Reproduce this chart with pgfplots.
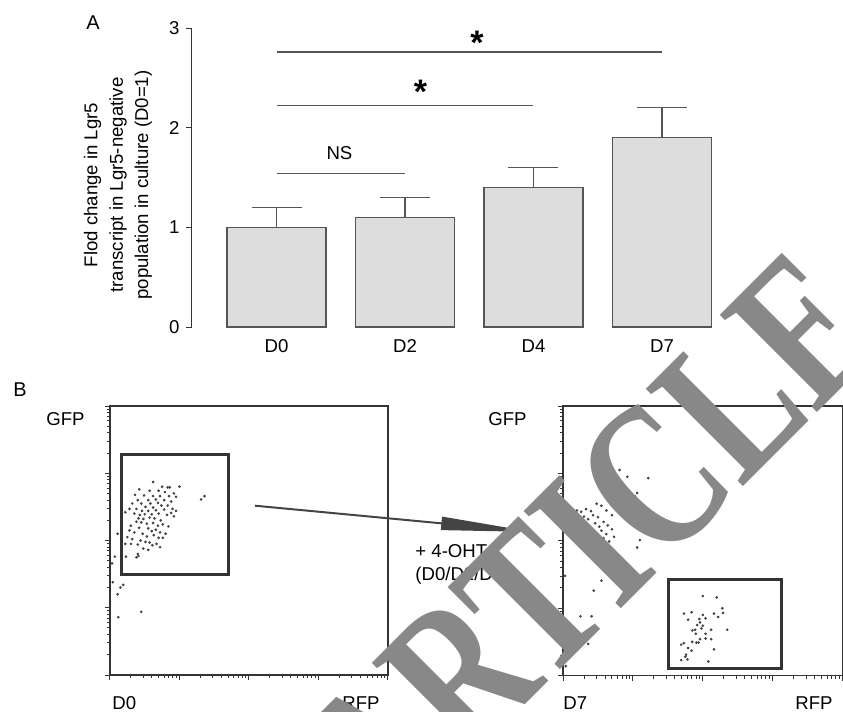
\documentclass[border=0pt]{standalone}
\usepackage{fontspec}
\setmainfont{Liberation Sans}
\newfontfamily\wmfont{Liberation Serif}
\usepackage{pgfplots}
\pgfplotsset{compat=1.18}
\usetikzlibrary{arrows.meta}

\definecolor{barfill}{HTML}{DDDDDD}
\definecolor{edge}{HTML}{555555}
\definecolor{dark}{HTML}{333333}
\definecolor{dotc}{HTML}{444444}
\definecolor{wm}{HTML}{888888}

% minor ticks of a 4-decade log scale, in decades
\def\logminor{0.301,0.477,0.602,0.699,0.778,0.845,0.903,0.954,
1.301,1.477,1.602,1.699,1.778,1.845,1.903,1.954,
2.301,2.477,2.602,2.699,2.778,2.845,2.903,2.954,
3.301,3.477,3.602,3.699,3.778,3.845,3.903,3.954}

\pgfplotsset{
  flow/.style={
    scale only axis, width=139pt, height=134.5pt,
    xmin=0, xmax=4, ymin=0, ymax=4,
    axis line style={draw=dark, line width=0.6pt},
    xtick={0,1,2,3,4}, ytick={0,1,2,3,4},
    minor xtick/.expand once=\logminor, minor ytick/.expand once=\logminor,
    xticklabel=\empty, yticklabel=\empty,
    tick align=outside, tick pos=left,
    major tick length=2.5pt, minor tick length=1.5pt,
    every tick/.style={draw=dark, line width=0.5pt},
    clip=false,
  },
  dots/.style={only marks, mark=*, mark size=0.45pt, color=dotc},
}

\begin{document}
\fontsize{9.3}{12.7}\selectfont
\begin{tikzpicture}

% ---------------- panel A ----------------
\begin{axis}[
  at={(96pt,-163.5pt)}, anchor=south west,
  scale only axis, width=267.1pt, height=149.5pt,
  xmin=-0.658, xmax=3.5, ymin=0, ymax=3,
  axis x line*=bottom, axis y line*=left,
  x axis line style={draw=none},
  y axis line style={draw=dark, line width=0.5pt},
  xtick={0,1,2,3}, xticklabels={D0,D2,D4,D7},
  xtick style={draw=none},
  ytick={0,1,2,3},
  tick align=outside, major tick length=3pt,
  ytick style={draw=dark, line width=0.5pt},
  /pgf/number format/assume math mode=true,
  clip=false,
]
\addplot[ybar, bar width=49.5pt, fill=barfill, draw=edge, line width=0.6pt,
  error bars/.cd, y dir=plus, y explicit,
  error bar style={draw=edge, line width=0.6pt},
  error mark options={rotate=90, mark size=12.5pt, draw=edge, line width=0.6pt}]
  coordinates {(0,1.0) +- (0,0.2) (1,1.1) +- (0,0.2) (2,1.4) +- (0,0.2) (3,1.9) +- (0,0.3)};
\draw[edge, line width=0.6pt] (axis cs:0,1.54) -- (axis cs:1,1.54);
\draw[edge, line width=0.6pt] (axis cs:0,2.22) -- (axis cs:2,2.22);
\draw[edge, line width=0.6pt] (axis cs:0,2.76) -- (axis cs:3,2.76);
\node[anchor=base, inner sep=0] at (axis cs:0.49,1.68) {NS};
\node[anchor=north, inner sep=0, font=\fontsize{17}{17}\selectfont\bfseries] at (axis cs:1.12,2.485) {*};
\node[anchor=north, inner sep=0, font=\fontsize{17}{17}\selectfont\bfseries] at (axis cs:1.56,2.97) {*};
\end{axis}

% ---------------- panel B, D0 ----------------
\begin{axis}[flow, at={(55pt,-337.5pt)}, anchor=south west]
\addplot[dots] coordinates {
(0.62,2.87) (0.75,2.80) (0.83,2.79) (0.86,2.79) (1.00,2.80) (0.42,2.76) (0.57,2.74) (0.70,2.74) (0.79,2.72) (0.92,2.70)
(0.36,2.68) (0.49,2.67) (0.62,2.66) (0.72,2.66) (0.85,2.66) (0.95,2.65) (0.40,2.60) (0.55,2.60) (0.66,2.61) (0.78,2.60)
(0.88,2.58) (0.32,2.55) (0.45,2.55) (0.58,2.55) (0.69,2.56) (0.74,2.52) (0.83,2.52) (0.51,2.50) (0.62,2.49) (0.28,2.47)
(0.38,2.47) (0.46,2.44) (0.55,2.44) (0.66,2.45) (0.78,2.46) (0.90,2.47) (0.95,2.44) (0.22,2.42) (0.35,2.40) (0.43,2.38)
(0.50,2.39) (0.60,2.39) (0.70,2.40) (0.82,2.38) (0.92,2.36) (0.88,2.41) (0.41,2.33) (0.48,2.32) (0.57,2.34) (0.64,2.33)
(0.73,2.30) (0.38,2.28) (0.45,2.27) (0.53,2.25) (0.62,2.26) (0.69,2.22) (0.76,2.24) (0.84,2.21) (0.30,2.22) (0.42,2.19)
(0.55,2.18) (0.60,2.14) (0.66,2.16) (0.72,2.12) (0.80,2.10) (0.28,2.15) (0.35,2.12) (0.47,2.10) (0.53,2.06) (0.63,2.08)
(0.70,2.04) (0.76,2.04) (0.25,2.05) (0.32,2.02) (0.44,2.00) (0.51,1.98) (0.57,1.97) (0.61,1.93) (0.67,1.95) (0.72,1.90)
(0.22,1.95) (0.30,1.95) (0.40,1.94) (0.48,1.88) (0.55,1.86) (0.40,1.80) (0.38,1.75) (0.41,1.77) (0.23,1.76)
(1.31,2.61) (1.36,2.66)
(0.11,2.10) (0.07,1.76) (0.03,1.66) (0.04,1.38) (0.19,1.34) (0.15,1.30) (0.11,1.20) (0.45,0.94) (0.12,0.86)
};
\draw[dark, line width=1.5pt] (axis cs:0.17,1.50) rectangle (axis cs:1.70,3.28);
\end{axis}

% ---------------- panel B, D7 ----------------
\begin{axis}[flow, at={(281.5pt,-337.8pt)}, anchor=south west, width=139.8pt, height=134.8pt]
\addplot[dots] coordinates {
(0.81,3.05) (1.22,2.93) (0.92,2.95) (0.79,2.93) (1.06,2.71) (1.03,2.66) (0.77,2.61) (0.99,2.48) (0.60,2.73) (0.68,2.55)
(0.85,2.50) (0.90,2.42) (1.10,2.01) (1.06,1.90) (0.75,1.59) (0.55,1.41) (0.44,1.26) (0.03,1.48)
(0.14,2.40) (0.20,2.45) (0.26,2.43) (0.33,2.47) (0.40,2.44) (0.12,2.33) (0.18,2.35) (0.24,2.30) (0.30,2.36) (0.36,2.32)
(0.43,2.38) (0.50,2.35) (0.10,2.25) (0.16,2.22) (0.22,2.27) (0.28,2.20) (0.34,2.24) (0.39,2.18) (0.46,2.26) (0.52,2.21)
(0.58,2.28) (0.64,2.23) (0.13,2.15) (0.19,2.12) (0.25,2.14) (0.31,2.10) (0.37,2.08) (0.42,2.13) (0.48,2.11) (0.55,2.15)
(0.62,2.10) (0.70,2.17) (0.21,2.04) (0.27,2.00) (0.33,2.03) (0.40,1.98) (0.45,2.02) (0.52,1.97) (0.58,2.04) (0.66,1.99)
(0.73,2.06) (0.36,1.93) (0.47,1.90) (0.60,1.92) (0.55,2.52) (0.62,2.45) (0.48,2.55) (0.70,2.38) (0.15,2.05) (0.08,2.18)
(0.25,0.88) (0.41,0.88) (0.18,0.62) (0.20,0.46) (0.36,0.47) (0.04,0.14)
(2.00,1.18) (2.20,1.16) (2.28,1.00) (1.73,0.92) (1.84,0.94) (2.00,0.90) (2.16,0.92) (2.29,0.93) (1.79,0.83) (1.95,0.84)
(2.04,0.85) (2.22,0.87) (1.96,0.79) (1.92,0.75) (2.00,0.74) (1.85,0.67) (1.89,0.68) (1.98,0.70) (2.12,0.68) (2.35,0.68)
(1.90,0.62) (1.73,0.48) (1.69,0.46) (1.79,0.41) (1.85,0.50) (1.91,0.49) (1.96,0.54) (2.04,0.62) (2.04,0.55) (2.12,0.54)
(1.76,0.31) (1.75,0.28) (1.78,0.24) (1.69,0.23) (2.08,0.21) (2.16,0.39) (1.84,0.37) (1.94,0.49)
};
\draw[dark, line width=1.5pt] (axis cs:1.51,0.10) rectangle (axis cs:3.13,1.42);
\end{axis}

% ---------------- annotations (1 unit = 1 px of the reference) ----------------
\begin{scope}[x=0.5pt, y=-0.5pt]
\node[rotate=90, align=center, inner sep=0] at (118,185)
  {Flod change in Lgr5\\transcript in Lgr5-negative\\population in culture (D0=1)};
\node[anchor=base west, inner sep=0, font=\fontsize{10}{12}\selectfont] at (86,29) {A};
\node[anchor=base west, inner sep=0, font=\fontsize{10}{12}\selectfont] at (13,396) {B};
\node[anchor=base east, inner sep=0] at (85,425) {GFP};
\node[anchor=base east, inner sep=0] at (527,425) {GFP};
\node[anchor=base west, inner sep=0] at (112,709) {D0};
\node[anchor=base east, inner sep=0] at (380,709) {RFP};
\node[anchor=base west, inner sep=0] at (563,709) {D7};
\node[anchor=base east, inner sep=0] at (833,709) {RFP};
\node[anchor=base west, inner sep=0] at (415,557) {+ 4-OHT};
\node[anchor=base west, inner sep=0] at (415,580) {(D0/D2/D4)};
\draw[draw=dotc, line width=1pt, -{Triangle[length=46pt,width=6.5pt]}] (255,505.7) -- (533,532);
\node[rotate=45, xscale=0.75, anchor=base east, inner sep=0, text=wm,
  font=\wmfont\bfseries\fontsize{105}{105}\selectfont] at (890.5,339.5) {RETRACTED ARTICLE};
\pgfresetboundingbox
\path[use as bounding box] (0,0) rectangle (843,712);
\end{scope}
\end{tikzpicture}
\end{document}
